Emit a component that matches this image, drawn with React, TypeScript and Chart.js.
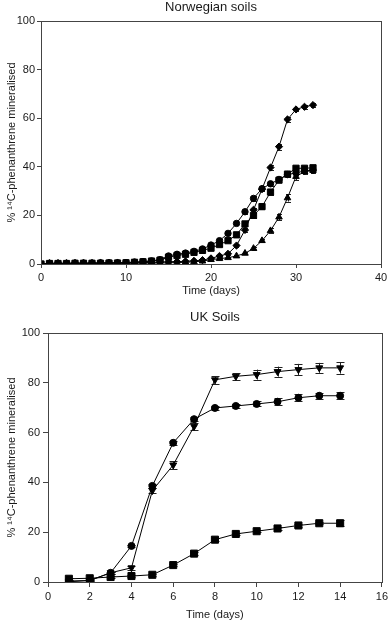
import React, { useEffect, useRef } from 'react';
import { Chart, registerables } from 'chart.js';

Chart.register(...registerables);

// ---------- Norwegian soils (top) ----------
const norDays = [0, 1, 2, 3, 4, 5, 6, 7, 8, 9, 10, 11, 12, 13, 14, 15, 16, 17, 18, 19, 20, 21, 22, 23, 24, 25, 26, 27, 28, 29, 30, 31, 32];
const norDiamond = [0, 0.3, 0.3, 0.3, 0.3, 0.3, 0.3, 0.4, 0.4, 0.4, 0.4, 0.5, 0.6, 0.7, 0.8, 0.9, 1.0, 1.1, 1.3, 1.6, 2.3, 3.3, 4.2, 7.6, 14, 22.3, 30.8, 39.7, 48.3, 59.5, 63.6, 64.7, 65.4];
const norDiamondErr = [0, 0, 0, 0, 0, 0, 0, 0, 0, 0, 0, 0, 0, 0, 0, 0, 0, 0, 0, 0, 0.3, 0.3, 0.4, 0.6, 0.8, 0.8, 0.9, 1.0, 1.2, 1.0, 0.8, 0.8, 0.8];
const norCircle = [0, 0.3, 0.3, 0.3, 0.4, 0.4, 0.4, 0.5, 0.5, 0.5, 0.6, 0.8, 1.0, 1.3, 1.8, 3.3, 4.0, 4.5, 5.2, 6.2, 7.8, 9.6, 12.6, 16.7, 21.5, 27, 31, 33, 34.8, 36.8, 37.5, 38.3, 38.6];
const norCircleErr = [0, 0, 0, 0, 0, 0, 0, 0, 0, 0, 0, 0, 0, 0, 0, 0.3, 0.3, 0.3, 0.3, 0.4, 0.5, 0.6, 0.7, 0.8, 0.9, 1.0, 1.0, 0.8, 0.8, 0.8, 0.8, 0.8, 0.8];
const norSquare = [0, 0.2, 0.2, 0.2, 0.3, 0.3, 0.3, 0.3, 0.4, 0.4, 0.5, 0.7, 0.9, 1.2, 1.6, 2.8, 3.5, 4.0, 4.8, 5.6, 6.5, 8.0, 9.6, 12, 16.5, 20, 23.6, 29.6, 34.5, 37, 39.4, 39.4, 39.6];
const norSquareErr = [0, 0, 0, 0, 0, 0, 0, 0, 0, 0, 0, 0, 0, 0, 0, 0.3, 0.3, 0.3, 0.3, 0.4, 0.5, 0.6, 0.7, 0.8, 0.9, 1.0, 1.0, 1.0, 0.8, 0.8, 0.8, 0.8, 0.8];
const norTriangle = [0, 0.2, 0.2, 0.2, 0.2, 0.2, 0.2, 0.3, 0.3, 0.3, 0.3, 0.3, 0.4, 0.4, 0.4, 0.5, 0.6, 0.7, 0.9, 1.2, 1.8, 2.2, 2.6, 3.3, 4.4, 6.4, 9.6, 13.7, 19.3, 27.2, 36, 38, 38.5];
const norTriangleErr = [0, 0, 0, 0, 0, 0, 0, 0, 0, 0, 0, 0, 0, 0, 0, 0, 0, 0, 0, 0, 0.2, 0.2, 0.3, 0.3, 0.4, 0.5, 0.6, 1.0, 1.2, 1.5, 1.5, 1.0, 1.0];
const norXTicks = [0, 10, 20, 30, 40];

// ---------- UK soils (bottom) ----------
const ukDays = [1, 2, 3, 4, 5, 6, 7, 8, 9, 10, 11, 12, 13, 14];
const ukTriangleDown = [0.1, 0.6, 3.7, 5.7, 36.7, 47, 62.5, 81.2, 82.6, 83.3, 84.5, 85.3, 86, 86];
const ukTriangleDownErr = [0.3, 0.3, 0.5, 0.8, 1.0, 1.5, 1.5, 1.5, 1.3, 2.0, 2.0, 2.3, 2.0, 2.3];
const ukCircle = [0.4, 0.6, 3.7, 14.5, 38.6, 55.9, 65.4, 69.9, 70.7, 71.5, 72.4, 74, 74.8, 74.8];
const ukCircleErr = [0.3, 0.3, 0.3, 0.5, 0.8, 0.8, 0.8, 0.8, 0.8, 1.0, 1.5, 1.5, 1.3, 1.5];
const ukSquare = [1.3, 1.5, 2.0, 2.4, 2.9, 6.8, 11.4, 17.0, 19.3, 20.4, 21.5, 22.7, 23.6, 23.6];
const ukSquareErr = [0.3, 0.3, 0.3, 0.3, 0.3, 0.5, 0.5, 0.5, 0.5, 0.5, 0.5, 0.5, 0.5, 1.2];

const yTitle = '% \u00B9\u2074C-phenanthrene mineralised';
const FONT = "'Liberation Sans', Arial, Helvetica, sans-serif";
const AXIS = '#444';
const TEXT = '#1a1a1a';

const toPts = (xs: number[], ys: number[]) => xs.map((x, i) => ({ x, y: ys[i] }));

const errorBarPlugin = {
  id: 'errorBars',
  beforeDatasetsDraw(chart: any, _args: any, opts: any) {
    const ctx = chart.ctx;
    const ys = chart.scales.y;
    const cap = opts && opts.cap ? opts.cap : 3;
    ctx.save();
    ctx.strokeStyle = '#222';
    ctx.lineWidth = 1;
    chart.data.datasets.forEach((ds: any, i: number) => {
      const errs: number[] | undefined = ds.errors;
      if (!errs) return;
      const meta = chart.getDatasetMeta(i);
      meta.data.forEach((pt: any, j: number) => {
        const e = errs[j];
        if (!e) return;
        const v = ds.data[j].y;
        const yT = ys.getPixelForValue(v + e);
        const yB = ys.getPixelForValue(Math.max(v - e, 0));
        const x = Math.round(pt.x) + 0.5;
        ctx.beginPath();
        ctx.moveTo(x, yT);
        ctx.lineTo(x, yB);
        ctx.moveTo(x - cap, Math.round(yT) + 0.5);
        ctx.lineTo(x + cap, Math.round(yT) + 0.5);
        ctx.moveTo(x - cap, Math.round(yB) + 0.5);
        ctx.lineTo(x + cap, Math.round(yB) + 0.5);
        ctx.stroke();
      });
    });
    ctx.restore();
  },
};

const framePlugin = {
  id: 'frame',
  afterDraw(chart: any) {
    const { left, right, top, bottom } = chart.chartArea;
    const ctx = chart.ctx;
    ctx.save();
    ctx.strokeStyle = AXIS;
    ctx.lineWidth = 1;
    ctx.strokeRect(Math.round(left) + 0.5, Math.round(top) + 0.5, Math.round(right - left), Math.round(bottom - top));
    ctx.restore();
  },
};

function ds(label: string, xs: number[], ys: number[], errs: number[], style: string, radius: number, rotation = 0) {
  return {
    label,
    data: toPts(xs, ys),
    errors: errs,
    borderColor: '#000',
    backgroundColor: '#000',
    borderWidth: 1,
    pointStyle: style,
    pointRadius: radius,
    pointRotation: rotation,
    pointBackgroundColor: '#000',
    pointBorderColor: '#000',
    pointBorderWidth: 1,
    tension: 0,
    fill: false,
  };
}

function makeConfig(p: {
  datasets: any[];
  title: string;
  titlePadTop: number;
  titlePadBottom: number;
  xMax: number;
  xStep: number;
  yWidth: number;
  xHeight: number;
  padRight: number;
  tickLen: number;
  yTickPad: number;
  cap: number;
}) {
  return {
    type: 'line',
    data: { datasets: p.datasets },
    plugins: [errorBarPlugin, framePlugin],
    options: {
      responsive: false,
      animation: false,
      devicePixelRatio: 1,
      layout: { padding: { left: 0, right: p.padRight, top: 0, bottom: 0 } },
      plugins: {
        legend: { display: false },
        tooltip: { enabled: false },
        errorBars: { cap: p.cap },
        title: {
          display: true,
          text: p.title,
          fullSize: false,
          color: TEXT,
          font: { family: FONT, size: 13, weight: 'normal' },
          padding: { top: p.titlePadTop, bottom: p.titlePadBottom },
        },
      },
      scales: {
        x: {
          type: 'linear',
          min: 0,
          max: p.xMax,
          afterFit: (s: any) => { s.height = p.xHeight; },
          ticks: { stepSize: p.xStep, color: TEXT, font: { family: FONT, size: 11 }, padding: 3, maxRotation: 0 },
          grid: { display: true, drawOnChartArea: false, drawTicks: true, tickLength: p.tickLen, color: AXIS },
          border: { display: true, color: AXIS },
          title: { display: true, text: 'Time (days)', color: TEXT, font: { family: FONT, size: 11 }, padding: { top: 0, bottom: 2 } },
        },
        y: {
          type: 'linear',
          min: 0,
          max: 100,
          afterFit: (s: any) => { s.width = p.yWidth; },
          ticks: { stepSize: 20, color: TEXT, font: { family: FONT, size: 11 }, padding: p.yTickPad },
          grid: { display: true, drawOnChartArea: false, drawTicks: true, tickLength: p.tickLen, color: AXIS },
          border: { display: true, color: AXIS },
          title: { display: true, text: yTitle, color: TEXT, font: { family: FONT, size: 11 }, padding: { top: 5, bottom: 0 } },
        },
      },
    },
  } as any;
}

function ChartCanvas({ config, width, height }: { config: any; width: number; height: number }) {
  const ref = useRef<HTMLCanvasElement | null>(null);
  useEffect(() => {
    if (!ref.current) return;
    const c = new Chart(ref.current, config);
    return () => c.destroy();
  }, [config]);
  return <canvas ref={ref} width={width} height={height} style={{ display: 'block', width, height }} />;
}

const norConfig = makeConfig({
  datasets: [
    ds('Diamond', norDays, norDiamond, norDiamondErr, 'rectRot', 3.6),
    ds('Circle', norDays, norCircle, norCircleErr, 'circle', 3.2),
    ds('Square', norDays, norSquare, norSquareErr, 'rect', 4.4),
    ds('Triangle', norDays, norTriangle, norTriangleErr, 'triangle', 3.8),
  ],
  title: 'Norwegian soils',
  titlePadTop: 0,
  titlePadBottom: 5.4,
  xMax: norXTicks[norXTicks.length - 1],
  xStep: norXTicks[1] - norXTicks[0],
  yWidth: 41,
  xHeight: 36,
  padRight: 10,
  tickLen: 4,
  yTickPad: 2,
  cap: 2.5,
});

const ukConfig = makeConfig({
  datasets: [
    ds('Triangle down', ukDays, ukTriangleDown, ukTriangleDownErr, 'triangle', 4, 180),
    ds('Circle', ukDays, ukCircle, ukCircleErr, 'circle', 3.5),
    ds('Square', ukDays, ukSquare, ukSquareErr, 'rect', 5),
  ],
  title: 'UK Soils',
  titlePadTop: 9.2,
  titlePadBottom: 8.2,
  xMax: 16,
  xStep: 2,
  yWidth: 48,
  xHeight: 42,
  padRight: 6,
  tickLen: 5,
  yTickPad: 3,
  cap: 4,
});

export default function App() {
  return (
    <div style={{ position: 'absolute', left: 0, top: 0, width: 391, height: 624, background: '#fff' }}>
      <ChartCanvas config={norConfig} width={391} height={300} />
      <ChartCanvas config={ukConfig} width={391} height={324} />
    </div>
  );
}
